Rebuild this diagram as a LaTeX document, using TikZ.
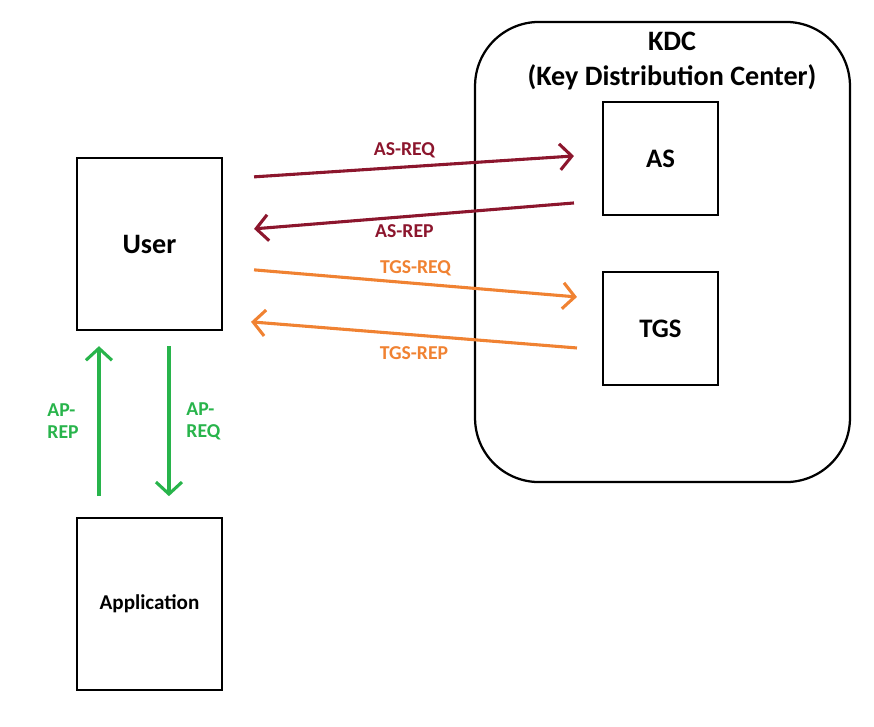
\documentclass[tikz,border=0pt]{standalone}
\usepackage{fontspec}
\setmainfont{Carlito}
\usetikzlibrary{arrows.meta, positioning, calc}

\definecolor{asred}{RGB}{140,22,45}
\definecolor{tgsorange}{RGB}{240,130,50}
\definecolor{apgreen}{RGB}{40,180,75}

\begin{document}
\begin{tikzpicture}[
            x = 0.025cm, y = -0.025cm, % pixel grid
            > = {Straight Barb[length=3mm, width=6.5mm]},
            box/.style = {draw = black, line width = 1.6pt, inner sep = 0pt},
            msg/.style = {->, line width = 2.2pt},
            lbl/.style = {font = \bfseries\fontsize{14}{16}\selectfont}
        ]

        \useasboundingbox (0,0) rectangle (874,726);

        % boxes
        \node[box, minimum width = 3.62cm, minimum height = 4.3cm] (user) at (149.5,244)
            {\bfseries\fontsize{20}{23}\selectfont User};
        \node[box, minimum width = 3.62cm, minimum height = 4.3cm] (app) at (149.5,604)
            {\bfseries\fontsize{15}{17}\selectfont Application};
        \node[box, rounded corners = 1.6cm, minimum width = 9.37cm, minimum height = 11.5cm] (kdc) at (662.5,252) {};
        \node[box, minimum width = 2.87cm, minimum height = 2.82cm] (as) at (660.5,158.5)
            {\bfseries\fontsize{19}{22}\selectfont AS};
        \node[box, minimum width = 2.87cm, minimum height = 2.82cm] (tgs) at (660.5,328.5)
            {\bfseries\fontsize{19}{22}\selectfont TGS};
        \node[font = \bfseries\fontsize{20}{25}\selectfont, align = center] (title) at (672,61)
            {KDC\\(Key Distribution Center)};

        % message ends
        \coordinate (u1) at ($(user.north east)+(31,20)$);
        \coordinate (u2) at ($(user.north east)+(31,72)$);
        \coordinate (u3) at ($(user.north east)+(31,113)$);
        \coordinate (u4) at ($(user.north east)+(28,165)$);
        \coordinate (a1) at ($(as.north west)+(-28,55)$);
        \coordinate (a2) at ($(as.north west)+(-28,102)$);
        \coordinate (t1) at ($(tgs.north west)+(-25,26)$);
        \coordinate (t2) at ($(tgs.north west)+(-25,77)$);
        \coordinate (g1) at ($(user.south west)+(23,165)$);
        \coordinate (g2) at ($(user.south west)+(23,15)$);
        \coordinate (g3) at ($(user.south west)+(93,15)$);
        \coordinate (g4) at ($(user.south west)+(93,165)$);

        \draw[msg, asred] (u1) -- node[lbl, above = 2pt, pos = 0.47] {AS-REQ} (a1);
        \draw[msg, asred] (a2) -- node[lbl, below = 1pt, pos = 0.53] {AS-REP} (u2);
        \draw[msg, tgsorange] (u3) -- node[lbl, above = 1pt, pos = 0.5] {TGS-REQ} (t1);
        \draw[msg, tgsorange] (t2) -- node[lbl, below = 4pt, pos = 0.5] {TGS-REP} (u4);
        \draw[msg, apgreen] (g1) -- node[lbl, left = 10pt, align = left] {AP-\\REP} (g2);
        \draw[msg, apgreen] (g3) -- node[lbl, right = 8pt, align = left] {AP-\\REQ} (g4);

  \end{tikzpicture}
\end{document}
